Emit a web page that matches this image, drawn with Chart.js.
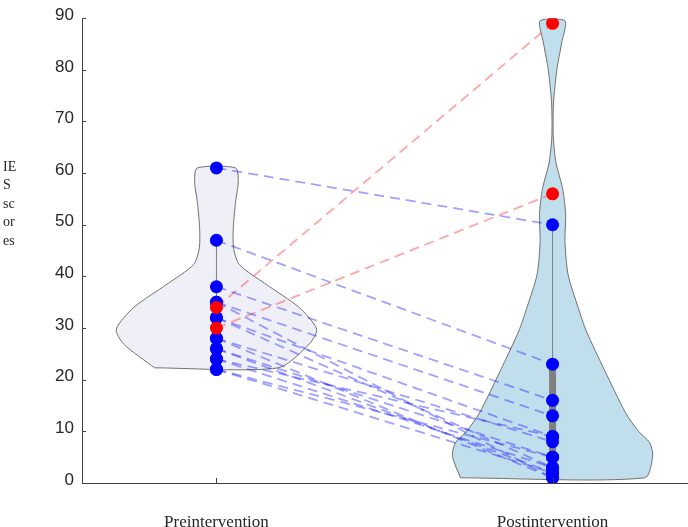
<!DOCTYPE html>
<html>
<head>
<meta charset="utf-8">
<script src="https://cdn.jsdelivr.net/npm/chart.js@4.4.1/dist/chart.umd.min.js"></script>
<style>
  html, body { margin: 0; padding: 0; background: #fff; overflow: hidden; }
  canvas { display: block; }
</style>
</head>
<body>
<canvas id="ies-chart" width="688" height="527"></canvas>
<script>
// groups on the x axis
var groups = ['Preintervention', 'Postintervention'];
var yTicks = [0, 10, 20, 30, 40, 50, 60, 70, 80, 90];

// paired IES scores, one entry per participant
var preScores  = [61, 47, 38, 35, 35, 32, 32, 28, 28, 26, 26, 24, 24, 22, 22, 34, 30];
var postScores = [50, 23, 16, 13,  1,  9,  3,  8,  1,  5,  2,  3,  9,  2,  5, 89, 56];
var worsened   = [0, 0, 0, 0, 0, 0, 0, 0, 0, 0, 0, 0, 0, 0, 0, 1, 1];

// violin outlines (score, half width in x units)
var preViolinY  = [22.3, 26.9, 29.8, 34.0, 38.5, 42.3, 45.5, 49.3, 54.5, 58.3, 61.0];
var preViolinW  = [0.184, 0.276, 0.298, 0.246, 0.147, 0.068, 0.051, 0.050, 0.057, 0.065, 0.057];
var postViolinY = [1.0, 5.2, 7.8, 10.0, 13.5, 21.8, 29.5, 34.0, 40.4, 46.8, 52.0, 57.0, 62.1, 67.3, 73.7, 80.1, 85.2, 89.5];
var postViolinW = [0.274, 0.298, 0.289, 0.256, 0.218, 0.155, 0.100, 0.076, 0.046, 0.037, 0.039, 0.030, 0.010, 0.002, 0.003, 0.013, 0.027, 0.037];

// box parts: whisker ends and quartiles
var preWhisker  = [22, 47];
var preBox      = [24.5, 36];
var postWhisker = [1, 50];
var postBox     = [3, 23];

function violinPoints(cx, ys, ws) {
  var pts = [];
  for (var i = 0; i < ys.length; i++) pts.push({x: cx - ws[i], y: ys[i]});
  for (var j = ys.length - 1; j >= 0; j--) pts.push({x: cx + ws[j], y: ys[j]});
  pts.push({x: cx - ws[0], y: ys[0]});
  return pts;
}

var datasets = [];

// dots on top
var dotData = [], dotColors = [];
for (var i = 0; i < preScores.length; i++) {
  dotData.push({x: 1, y: preScores[i]});
  dotColors.push(worsened[i] ? '#ff0000' : '#0000ff');
}
for (var i = 0; i < postScores.length; i++) {
  dotData.push({x: 2, y: postScores[i]});
  dotColors.push(worsened[i] ? '#ff0000' : '#0000ff');
}
datasets.push({
  type: 'scatter', data: dotData, order: 0,
  pointRadius: 6.5, pointBackgroundColor: dotColors, pointBorderWidth: 0, showLine: false
});

// dashed pair lines
for (var i = 0; i < preScores.length; i++) {
  datasets.push({
    type: 'line', order: 1,
    data: [{x: 1, y: preScores[i]}, {x: 2, y: postScores[i]}],
    borderColor: worsened[i] ? 'rgba(255,60,60,0.45)' : 'rgba(30,30,255,0.42)',
    borderWidth: 1.8, borderDash: [10, 6], pointRadius: 0, fill: false
  });
}

// box: thin whisker + thick quartile bar
function boxLine(cx, range, w) {
  return {
    type: 'line', order: 2,
    data: [{x: cx, y: range[0]}, {x: cx, y: range[1]}],
    borderColor: '#808080', borderWidth: w, pointRadius: 0, fill: false, borderCapStyle: 'butt'
  };
}
datasets.push(boxLine(1, preWhisker, 1));
datasets.push(boxLine(1, preBox, 7));
datasets.push(boxLine(2, postWhisker, 1));
datasets.push(boxLine(2, postBox, 7));

// violins at the back
datasets.push({
  type: 'line', order: 3, data: violinPoints(1, preViolinY, preViolinW),
  borderColor: '#707070', borderWidth: 1, backgroundColor: 'rgb(239,239,247)',
  fill: 'shape', tension: 0.25, pointRadius: 0
});
datasets.push({
  type: 'line', order: 3, data: violinPoints(2, postViolinY, postViolinW),
  borderColor: '#707070', borderWidth: 1, backgroundColor: 'rgb(193,222,236)',
  fill: 'shape', tension: 0.25, pointRadius: 0
});

// inward tick marks and the broken-up y label
var extras = {
  id: 'extras',
  afterDraw: function (chart) {
    var ctx = chart.ctx, xs = chart.scales.x, ys = chart.scales.y;
    ctx.save();
    ctx.strokeStyle = '#404040';
    ctx.lineWidth = 1;
    yTicks.forEach(function (t) {
      var py = Math.round(ys.getPixelForValue(t)) + 0.5;
      ctx.beginPath(); ctx.moveTo(xs.left, py); ctx.lineTo(xs.left + 4, py); ctx.stroke();
    });
    [1, 2].forEach(function (t) {
      var px = Math.round(xs.getPixelForValue(t)) + 0.5;
      ctx.beginPath(); ctx.moveTo(px, ys.bottom); ctx.lineTo(px, ys.bottom - 5); ctx.stroke();
    });
    ctx.fillStyle = '#262626';
    ctx.font = '14px "Liberation Serif", "DejaVu Serif", serif';
    ctx.textAlign = 'left';
    ctx.textBaseline = 'middle';
    var parts = ['IE', 'S', 'sc', 'or', 'es'];
    for (var k = 0; k < parts.length; k++) ctx.fillText(parts[k], 3, 167 + k * 18.5);
    ctx.restore();
  }
};

new Chart(document.getElementById('ies-chart'), {
  type: 'line',
  data: { datasets: datasets },
  options: {
    responsive: false,
    animation: false,
    layout: { autoPadding: false, padding: { top: 15, right: 1, left: 0, bottom: 0 } },
    plugins: { legend: { display: false }, tooltip: { enabled: false } },
    scales: {
      x: {
        type: 'linear', min: 0.6, max: 2.4,
        grid: { display: false, drawTicks: false },
        border: { display: true, color: '#404040', width: 1 },
        afterBuildTicks: function (axis) { axis.ticks = [{value: 1}, {value: 2}]; },
        afterFit: function (axis) { axis.height = 44; axis.paddingRight = 0; axis.paddingLeft = 0; },
        ticks: {
          autoSkip: false, maxRotation: 0, padding: 29, color: '#262626',
          font: { family: '"Liberation Serif", "Times New Roman", serif', size: 17 },
          callback: function (v) { return groups[v - 1]; }
        }
      },
      y: {
        min: 0, max: 90,
        grid: { display: false, drawTicks: false },
        border: { display: true, color: '#404040', width: 1 },
        afterFit: function (axis) { axis.width = 82; },
        ticks: {
          stepSize: 10, padding: 8, color: '#262626', labelOffset: -3,
          font: { family: '"Liberation Sans", Arial, sans-serif', size: 17 }
        }
      }
    }
  },
  plugins: [extras]
});
</script>
</body>
</html>
